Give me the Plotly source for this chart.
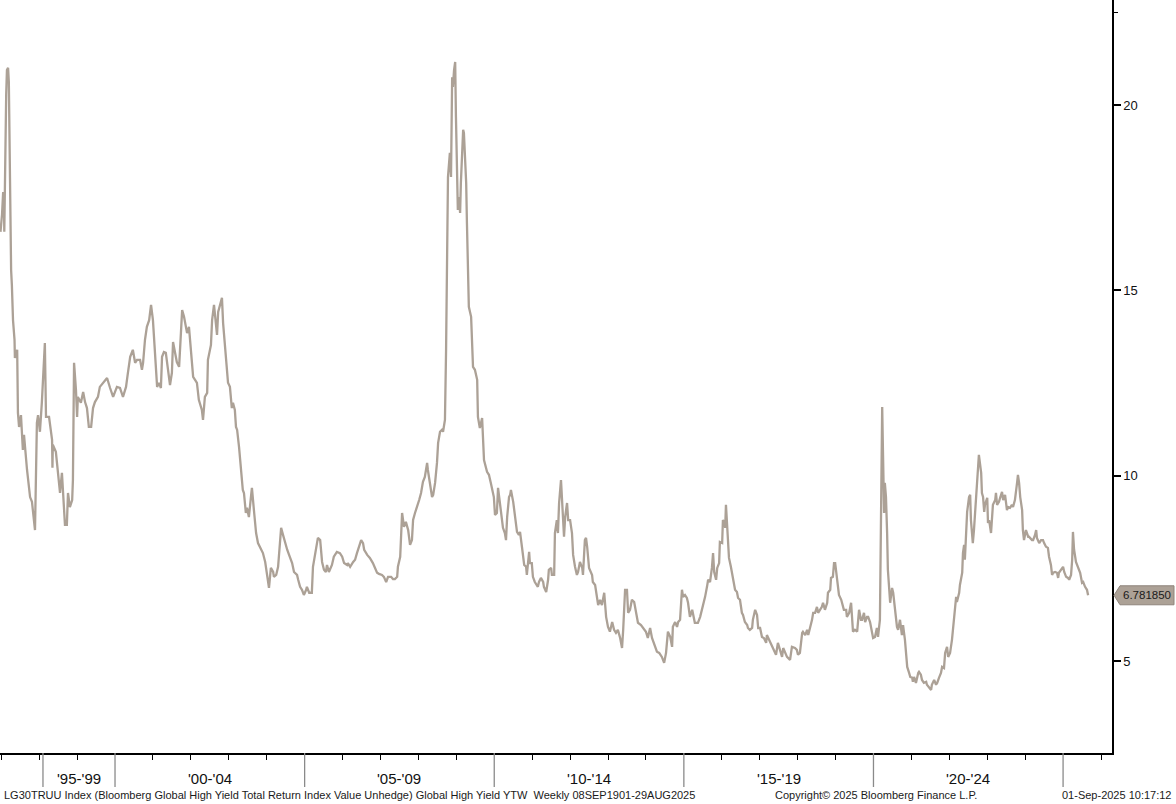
import plotly.graph_objects as go

# Weekly YTW of LG30TRUU (decimal years)
dates = [
1996.98,1997.02,1997.05,1997.07,1997.08,1997.10,1997.13,1997.15,1997.18,1997.20,
1997.22,1997.24,1997.26,1997.28,1997.31,1997.35,1997.36,1997.42,1997.44,1997.47,
1997.52,1997.57,1997.60,1997.68,1997.70,1997.76,1997.81,1997.84,1997.89,1997.94,
1997.97,1998.02,1998.07,1998.15,1998.18,1998.26,1998.29,1998.34,1998.35,1998.36,
1998.44,1998.50,1998.55,1998.60,1998.63,1998.68,1998.73,1998.76,1998.81,1998.87,
1998.89,1998.92,1998.97,1999.00,1999.02,1999.10,1999.16,1999.21,1999.26,1999.31,
1999.37,1999.42,1999.47,1999.52,1999.55,1999.60,1999.68,1999.79,1999.87,1999.95,
2000.05,2000.13,2000.21,2000.29,2000.34,2000.40,2000.47,2000.53,2000.58,2000.66,
2000.71,2000.74,2000.79,2000.84,2000.90,2000.95,2001.00,2001.05,2001.11,2001.16,
2001.21,2001.24,2001.29,2001.34,2001.40,2001.45,2001.50,2001.53,2001.58,2001.63,
2001.69,2001.74,2001.77,2001.82,2001.87,2001.90,2001.95,2002.00,2002.06,2002.11,
2002.16,2002.21,2002.29,2002.32,2002.37,2002.43,2002.45,2002.53,2002.56,2002.61,
2002.66,2002.69,2002.72,2002.77,2002.82,2002.85,2002.93,2002.98,2003.03,2003.08,
2003.11,2003.16,2003.19,2003.22,2003.27,2003.32,2003.37,2003.40,2003.45,2003.48,
2003.53,2003.59,2003.61,2003.67,2003.72,2003.77,2003.82,2003.90,2003.96,2004.01,
2004.06,2004.11,2004.17,2004.19,2004.25,2004.30,2004.35,2004.38,2004.43,2004.48,
2004.54,2004.59,2004.67,2004.72,2004.80,2004.83,2004.88,2004.93,2004.98,2005.04,
2005.06,2005.12,2005.19,2005.22,2005.30,2005.35,2005.41,2005.46,2005.51,2005.56,
2005.59,2005.64,2005.72,2005.77,2005.83,2005.85,2005.93,2005.99,2006.04,2006.12,
2006.14,2006.20,2006.28,2006.33,2006.38,2006.41,2006.49,2006.54,2006.57,2006.65,
2006.72,2006.80,2006.86,2006.91,2006.96,2007.04,2007.09,2007.15,2007.20,2007.28,
2007.33,2007.38,2007.44,2007.46,2007.52,2007.54,2007.57,2007.62,2007.67,2007.73,
2007.78,2007.83,2007.86,2007.91,2007.96,2008.02,2008.07,2008.12,2008.17,2008.23,
2008.25,2008.31,2008.36,2008.39,2008.44,2008.49,2008.52,2008.57,2008.62,2008.65,
2008.70,2008.73,2008.75,2008.77,2008.78,2008.83,2008.86,2008.89,2008.91,2008.94,
2008.97,2008.99,2009.02,2009.04,2009.07,2009.10,2009.12,2009.18,2009.20,2009.26,
2009.28,2009.31,2009.33,2009.39,2009.41,2009.44,2009.49,2009.55,2009.57,2009.62,
2009.68,2009.70,2009.73,2009.81,2009.86,2009.91,2009.97,2009.99,2010.02,2010.07,
2010.10,2010.15,2010.20,2010.23,2010.28,2010.31,2010.34,2010.39,2010.42,2010.44,
2010.50,2010.52,2010.57,2010.60,2010.65,2010.68,2010.73,2010.76,2010.79,2010.84,
2010.86,2010.92,2010.94,2010.99,2011.02,2011.07,2011.13,2011.15,2011.18,2011.23,
2011.29,2011.31,2011.37,2011.42,2011.44,2011.50,2011.52,2011.58,2011.60,2011.65,
2011.68,2011.71,2011.76,2011.79,2011.84,2011.87,2011.92,2011.95,2012.00,2012.05,
2012.08,2012.13,2012.18,2012.21,2012.26,2012.32,2012.34,2012.39,2012.42,2012.45,
2012.50,2012.58,2012.60,2012.66,2012.71,2012.74,2012.79,2012.84,2012.90,2012.95,
2013.00,2013.05,2013.11,2013.13,2013.16,2013.21,2013.26,2013.32,2013.37,2013.40,
2013.45,2013.50,2013.53,2013.58,2013.63,2013.69,2013.74,2013.79,2013.87,2013.92,
2014.00,2014.05,2014.11,2014.16,2014.19,2014.24,2014.29,2014.35,2014.42,2014.48,
2014.53,2014.58,2014.64,2014.69,2014.71,2014.77,2014.82,2014.85,2014.90,2014.95,
2014.98,2015.03,2015.08,2015.11,2015.16,2015.22,2015.24,2015.29,2015.35,2015.37,
2015.43,2015.48,2015.51,2015.56,2015.61,2015.64,2015.69,2015.74,2015.77,2015.80,
2015.85,2015.88,2015.93,2015.95,2016.01,2016.03,2016.06,2016.09,2016.11,2016.14,
2016.17,2016.19,2016.24,2016.30,2016.35,2016.40,2016.43,2016.48,2016.53,2016.56,
2016.61,2016.67,2016.69,2016.74,2016.80,2016.82,2016.88,2016.93,2016.96,2017.01,
2017.06,2017.11,2017.17,2017.19,2017.25,2017.33,2017.38,2017.43,2017.48,2017.54,
2017.59,2017.62,2017.67,2017.72,2017.80,2017.85,2017.93,2017.98,2018.01,2018.06,
2018.12,2018.14,2018.20,2018.25,2018.28,2018.33,2018.38,2018.41,2018.46,2018.51,
2018.54,2018.59,2018.64,2018.67,2018.72,2018.78,2018.80,2018.86,2018.88,2018.93,
2018.96,2018.99,2019.04,2019.07,2019.09,2019.15,2019.20,2019.22,2019.28,2019.30,
2019.36,2019.38,2019.41,2019.46,2019.51,2019.57,2019.59,2019.62,2019.67,2019.70,
2019.75,2019.78,2019.83,2019.86,2019.91,2019.96,2019.99,2020.04,2020.09,2020.12,
2020.17,2020.20,2020.23,2020.25,2020.28,2020.30,2020.33,2020.36,2020.38,2020.44,
2020.49,2020.52,2020.57,2020.62,2020.65,2020.70,2020.75,2020.78,2020.83,2020.86,
2020.89,2020.94,2020.97,2021.02,2021.04,2021.07,2021.12,2021.18,2021.20,2021.25,
2021.28,2021.33,2021.39,2021.41,2021.46,2021.52,2021.54,2021.60,2021.65,2021.68,
2021.73,2021.78,2021.81,2021.86,2021.89,2021.94,2021.97,2022.02,2022.07,2022.10,
2022.15,2022.18,2022.20,2022.26,2022.28,2022.34,2022.36,2022.39,2022.41,2022.44,
2022.47,2022.52,2022.55,2022.57,2022.60,2022.62,2022.65,2022.70,2022.73,2022.76,
2022.78,2022.84,2022.86,2022.89,2022.92,2022.94,2023.00,2023.02,2023.05,2023.10,
2023.13,2023.15,2023.21,2023.23,2023.26,2023.31,2023.34,2023.39,2023.42,2023.47,
2023.52,2023.55,2023.60,2023.65,2023.68,2023.73,2023.79,2023.81,2023.84,2023.87,
2023.92,2023.94,2023.97,2024.02,2024.08,2024.10,2024.18,2024.21,2024.26,2024.29,
2024.31,2024.37,2024.42,2024.47,2024.50,2024.55,2024.60,2024.63,2024.68,2024.71,
2024.74,2024.79,2024.84,2024.87,2024.89,2024.95,2025.00,2025.03,2025.08,2025.13,
2025.16,2025.21,2025.24,2025.26,2025.29,2025.34,2025.37,2025.42,2025.45,2025.50,
2025.53,2025.58,2025.63,2025.66,
]

ytw = [
16.58,17.04,17.65,17.49,16.58,18.52,20.27,20.94,21.00,20.62,
18.52,16.09,15.55,15.15,14.20,13.67,13.18,13.40,11.70,11.32,
11.64,10.70,11.11,10.16,9.97,9.43,9.30,9.00,8.54,11.43,
11.64,11.19,11.97,13.58,11.59,11.59,11.37,10.97,10.22,10.84,
10.65,10.08,9.54,10.08,9.43,8.68,8.68,9.54,9.16,9.35,
9.89,13.05,12.32,11.59,12.13,11.97,12.26,11.99,11.83,11.32,
11.32,11.83,11.99,12.10,12.13,12.40,12.51,12.64,12.37,12.13,
12.40,12.37,12.13,12.40,12.78,13.21,13.40,13.05,13.13,13.13,
12.86,13.05,13.67,14.02,14.20,14.61,14.20,13.48,12.40,12.51,
12.37,13.21,13.34,13.32,12.78,12.45,12.78,13.61,13.34,13.07,
12.94,13.94,14.47,14.29,14.02,13.85,14.02,13.40,12.67,12.59,
12.51,12.05,11.78,11.51,12.13,12.24,13.13,13.53,14.20,14.61,
13.94,13.80,14.42,14.61,14.80,14.12,13.21,12.51,12.40,11.83,
11.97,11.78,11.32,11.24,10.78,10.16,9.62,9.54,9.00,9.14,
8.89,9.49,9.68,9.00,8.46,8.19,8.09,7.92,7.68,7.28,
6.98,7.52,7.41,7.28,7.33,7.55,8.09,8.60,8.41,8.19,
8.01,7.87,7.65,7.41,7.33,7.20,7.01,6.93,6.79,6.93,
7.01,6.85,6.85,7.55,8.01,8.33,8.27,7.68,7.47,7.41,
7.60,7.41,7.60,7.82,7.92,7.95,7.92,7.82,7.65,7.60,
7.65,7.55,7.68,7.74,7.92,8.01,8.27,8.19,8.01,7.87,
7.79,7.65,7.52,7.39,7.36,7.33,7.28,7.14,7.28,7.28,
7.22,7.22,7.28,7.55,7.82,8.54,9.00,8.63,8.76,8.54,
8.14,8.27,8.81,9.00,9.14,9.35,9.54,9.84,9.97,10.35,
10.16,9.81,9.43,9.49,9.81,10.35,10.89,11.19,11.24,11.19,
11.51,13.40,15.20,16.98,18.06,18.71,18.06,20.75,20.49,20.94,
21.16,19.68,18.33,17.17,17.52,17.09,17.90,19.33,19.25,17.90,
16.82,15.63,14.56,14.29,13.40,12.94,12.86,12.59,11.59,11.29,
11.56,10.84,10.43,10.11,10.03,9.81,9.49,9.43,8.95,9.00,
9.68,9.27,8.81,8.60,8.46,8.27,8.89,9.43,9.49,9.62,
9.30,9.16,8.81,8.49,8.41,8.49,8.09,7.87,7.60,7.55,
7.33,7.95,7.65,7.65,7.28,7.14,7.01,7.01,7.14,7.25,
7.14,7.01,6.87,7.20,7.47,7.52,7.33,7.33,8.46,8.81,
8.46,9.27,9.89,9.16,8.36,8.89,9.27,8.81,8.81,8.46,
7.87,7.55,7.33,7.41,7.68,7.52,7.33,8.27,8.33,8.09,
7.52,7.33,7.14,7.06,6.74,6.52,6.66,6.52,6.85,6.20,
5.93,5.80,6.06,5.98,5.85,5.77,5.85,5.63,5.36,5.85,
6.93,6.93,6.31,6.39,6.66,6.60,6.33,6.04,5.98,5.90,
5.80,5.63,5.90,5.63,5.53,5.36,5.26,5.23,5.12,4.96,
5.23,5.80,5.66,5.39,5.93,6.06,5.93,6.06,6.12,6.93,
6.74,6.79,6.71,6.58,6.20,6.39,6.25,6.04,6.04,6.04,
6.20,6.39,6.52,6.74,7.01,7.20,7.14,7.52,7.92,7.41,
7.20,7.52,7.65,8.22,8.19,8.81,8.76,8.60,9.22,8.63,
8.09,7.79,7.55,7.20,6.93,6.87,6.71,6.66,6.31,6.25,
6.06,5.98,5.90,5.85,5.90,6.12,6.39,6.25,5.90,5.90,
5.66,5.63,5.50,5.71,5.58,5.39,5.26,5.18,5.50,5.31,
5.12,5.36,5.23,5.12,5.04,5.39,5.36,5.31,5.18,5.23,
5.77,5.80,5.71,5.85,5.71,5.90,6.12,6.31,6.31,6.47,
6.31,6.39,6.47,6.58,6.39,6.58,6.85,6.93,7.25,7.28,
7.65,7.65,7.28,6.98,6.79,6.66,6.44,6.39,6.39,6.20,
6.31,6.44,6.58,5.80,5.85,5.80,5.98,6.39,6.12,6.12,
6.31,6.06,6.20,6.20,6.06,5.77,5.63,5.66,5.90,5.66,
6.12,9.00,11.86,10.70,9.00,9.81,9.43,8.46,7.47,6.58,
6.98,6.85,6.31,5.93,5.85,6.12,5.71,5.98,5.58,5.23,
4.85,4.69,4.58,4.56,4.45,4.58,4.42,4.69,4.72,4.64,
4.50,4.42,4.45,4.37,4.29,4.23,4.37,4.50,4.37,4.42,
4.56,4.69,4.85,4.82,5.23,5.39,5.12,5.23,5.58,5.85,
6.31,6.74,6.60,6.85,7.06,7.39,7.92,8.14,7.74,8.27,
9.03,9.43,9.49,8.81,8.46,8.19,8.54,9.27,9.89,10.43,
10.57,10.08,9.54,9.43,9.03,9.22,9.41,8.73,8.81,8.46,
9.08,9.22,9.35,9.54,9.22,9.30,9.41,9.57,9.35,9.49,
9.08,9.16,9.14,9.22,9.16,9.35,9.84,10.03,9.81,9.43,
9.08,8.54,8.27,8.54,8.36,8.36,8.27,8.27,8.41,8.54,
8.33,8.19,8.27,8.27,8.19,8.09,8.06,7.82,7.60,7.33,
7.39,7.41,7.39,7.25,7.39,7.47,7.55,7.41,7.28,7.25,
7.20,7.33,7.74,8.49,8.01,7.68,7.60,7.47,7.39,7.12,
7.14,7.01,6.93,6.78185,
]

period_labels = ["'95-'99", "'00-'04", "'05-'09", "'10-'14", "'15-'19", "'20-'24"]
period_bounds = [1998.10, 2000, 2005, 2010, 2015, 2020, 2025]
minor_years = [1997, 1998, 1999, 2001, 2002, 2003, 2004, 2006, 2007, 2008, 2009,
               2011, 2012, 2013, 2014, 2016, 2017, 2018, 2019, 2021, 2022, 2023, 2024, 2026]
y_ticks = [5, 10, 15, 20]
y_minor = [22.5]
last_label = "6.781850"

x_range = [1996.967, 2026.29]
y_range = [2.53, 22.83]

LINE = "#aca196"
FONT = "Liberation Sans"
W, H = 1176, 804
ML, MR, MT, MB = 0, 64, 0, 51
plot_h = H - MT - MB
pw = W - ML - MR

fig = go.Figure()
fig.add_trace(go.Scatter(x=dates, y=ytw, mode="lines",
                         line=dict(color=LINE, width=2.3), hoverinfo="x+y",
                         showlegend=False))

shapes = []
annotations = []
sep_depth = 34 / plot_h
for b in period_bounds:
    shapes.append(dict(type="line", xref="x", yref="paper", x0=b, x1=b,
                       y0=0, y1=-sep_depth, line=dict(color="#8a8a8a", width=1.3)))
for i, lab in enumerate(period_labels):
    mid = (period_bounds[i] + period_bounds[i + 1]) / 2
    annotations.append(dict(text=lab, xref="x", yref="paper", x=mid, y=-25 / plot_h,
                            showarrow=False, xanchor="center", yanchor="middle",
                            font=dict(family=FONT, size=15, color="#111111")))

# last-value tag on the right axis
last = ytw[-1]
yp = (last - y_range[0]) / (y_range[1] - y_range[0])
hh = 9.5 / plot_h
shapes.append(dict(type="path", xref="paper", yref="paper",
                   path=f"M {2/pw+1} {yp} L {8/pw+1} {yp+hh} L {62/pw+1} {yp+hh} "
                        f"L {62/pw+1} {yp-hh} L {8/pw+1} {yp-hh} Z",
                   fillcolor=LINE, line=dict(color="#8f857b", width=1)))
annotations.append(dict(text=last_label, xref="paper", yref="paper", x=1 + 35/pw, y=yp,
                        showarrow=False, xanchor="center", yanchor="middle",
                        font=dict(family=FONT, size=11.5, color="#1a1a1a")))

foot_y = -42 / plot_h
annotations.append(dict(text="LG30TRUU Index (Bloomberg Global High Yield Total Return Index Value Unhedge) Global High Yield YTW&nbsp;&nbsp;Weekly 08SEP1901-29AUG2025",
                        xref="paper", yref="paper", x=2 / pw, y=foot_y, showarrow=False,
                        xanchor="left", yanchor="middle",
                        font=dict(family=FONT, size=11, color="#1a1a1a")))
annotations.append(dict(text="Copyright© 2025 Bloomberg Finance L.P.",
                        xref="paper", yref="paper", x=773 / pw, y=foot_y, showarrow=False,
                        xanchor="left", yanchor="middle",
                        font=dict(family=FONT, size=11, color="#1a1a1a")))
annotations.append(dict(text="01-Sep-2025 10:17:12",
                        xref="paper", yref="paper", x=1 + 61 / pw, y=foot_y, showarrow=False,
                        xanchor="right", yanchor="middle",
                        font=dict(family=FONT, size=11, color="#1a1a1a")))

fig.update_layout(
    width=W, height=H,
    margin=dict(l=ML, r=MR, t=MT, b=MB, autoexpand=False),
    paper_bgcolor="white", plot_bgcolor="white",
    shapes=shapes, annotations=annotations,
    xaxis=dict(range=x_range, showgrid=False, zeroline=False,
               showline=True, linecolor="black", linewidth=1.5,
               tickmode="array", tickvals=minor_years, ticks="outside",
               ticklen=5, tickcolor="black", tickwidth=1, showticklabels=False),
    yaxis=dict(range=y_range, side="right", showgrid=False, zeroline=False,
               showline=True, linecolor="black", linewidth=1.5,
               tickmode="array", tickvals=y_ticks, ticks="outside",
               ticklen=7, tickwidth=2, tickcolor="black",
               tickfont=dict(family=FONT, size=13, color="#111111"),
               minor=dict(tickmode="array", tickvals=y_minor, ticks="outside",
                          ticklen=4, tickwidth=1, tickcolor="black")),
)

fig.write_html("out.html", config={"displayModeBar": False},
               post_script="document.body.style.margin='0';document.body.style.padding='0';document.body.style.overflow='hidden';")
